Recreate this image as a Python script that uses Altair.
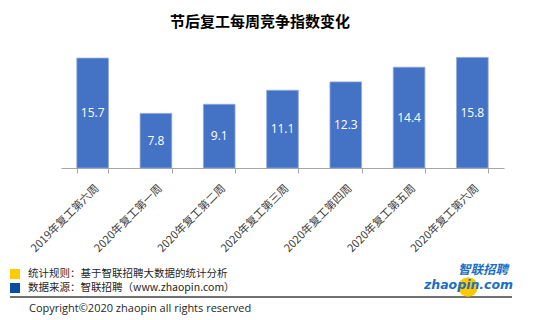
import altair as alt
import pandas as pd

categories = ["2019年复工第六周", "2020年复工第一周", "2020年复工第二周", "2020年复工第三周",
              "2020年复工第四周", "2020年复工第五周", "2020年复工第六周"]
values = [15.7, 7.8, 9.1, 11.1, 12.3, 14.4, 15.8]

title_text = "节后复工每周竞争指数变化"
note1 = "统计规则：基于智联招聘大数据的统计分析"
note2 = "数据来源：智联招聘（www.zhaopin.com）"
copyright_text = "Copyright©2020 zhaopin all rights reserved"

df = pd.DataFrame({"cat": categories, "val": values})
FONT = "Noto Sans CJK SC"

xaxis = alt.Axis(labelAngle=-45, labelFontSize=11, labelFont=FONT,
                 labelColor="#404040", labelPadding=9, tickBand="extent",
                 domainColor="#a6a6a6", tickColor="#a6a6a6", tickSize=5,
                 labelLimit=200, grid=False)
xscale = alt.Scale(paddingInner=0.5, paddingOuter=0.25)
yscale = alt.Scale(domain=[0, 18], nice=False)

base = alt.Chart(df)
bars = base.mark_bar(color="#4472C4", stroke="#8faadc", strokeWidth=0.8).encode(
    x=alt.X("cat:N", sort=categories, title=None, scale=xscale, axis=xaxis),
    y=alt.Y("val:Q", scale=yscale, axis=None))
labels = base.transform_calculate(mid="datum.val / 2").mark_text(
    color="white", fontSize=12, font="Open Sans").encode(
    x=alt.X("cat:N", sort=categories, title=None, scale=xscale, axis=xaxis),
    y=alt.Y("mid:Q", scale=yscale, axis=None),
    text=alt.Text("val:Q", format=".1f"))

one = pd.DataFrame({"a": [0]})
ob = alt.Chart(one)

title = ob.mark_text(text=title_text, fontSize=15, fontWeight="bold", font=FONT,
                     color="#000000").encode(x=alt.value(199), y=alt.value(-20))

sq1 = ob.mark_square(color="#FFCC00", size=100, opacity=1).encode(x=alt.value(-46), y=alt.value(232))
sq2 = ob.mark_square(color="#0B4EA2", size=100, opacity=1).encode(x=alt.value(-46), y=alt.value(246))
t1 = ob.mark_text(text=note1, fontSize=10.5, font=FONT, align="left", color="#262626").encode(
    x=alt.value(-33), y=alt.value(232))
t2 = ob.mark_text(text=note2, fontSize=10.5, font=FONT, align="left", color="#262626").encode(
    x=alt.value(-33), y=alt.value(246))
sep = ob.mark_rule(color="#404040", strokeWidth=1.5).encode(
    x=alt.value(-51), x2=alt.value(451), y=alt.value(255))
t3 = ob.mark_text(text=copyright_text, fontSize=11, font="Open Sans", align="left",
                  color="#262626").encode(x=alt.value(-32), y=alt.value(267))

circ = ob.mark_circle(color="#FFC800", size=380, opacity=1).encode(x=alt.value(407), y=alt.value(245))
logo1 = ob.mark_text(text="智联招聘", fontSize=12.5, font=FONT, fontStyle="italic", fontWeight="bold",
                     align="left", color="#1D6FC4").encode(x=alt.value(397), y=alt.value(228))
logo2 = ob.mark_text(text="zhaopin.com", fontSize=12.5, font="DejaVu Sans", fontStyle="italic",
                     fontWeight="bold", align="left", color="#1D6FC4").encode(
    x=alt.value(363), y=alt.value(243))

chart = alt.layer(bars, labels, title, sq1, sq2, t1, t2, sep, t3, circ, logo1, logo2).properties(
    width=443, height=126, padding={"left": 61, "top": 42, "right": 46, "bottom": 152},
    autosize=alt.AutoSizeParams(type="none"), background="white"
).configure_view(stroke="transparent", strokeWidth=0)

chart.save("out.html", embed_options={"renderer": "svg", "actions": False})
